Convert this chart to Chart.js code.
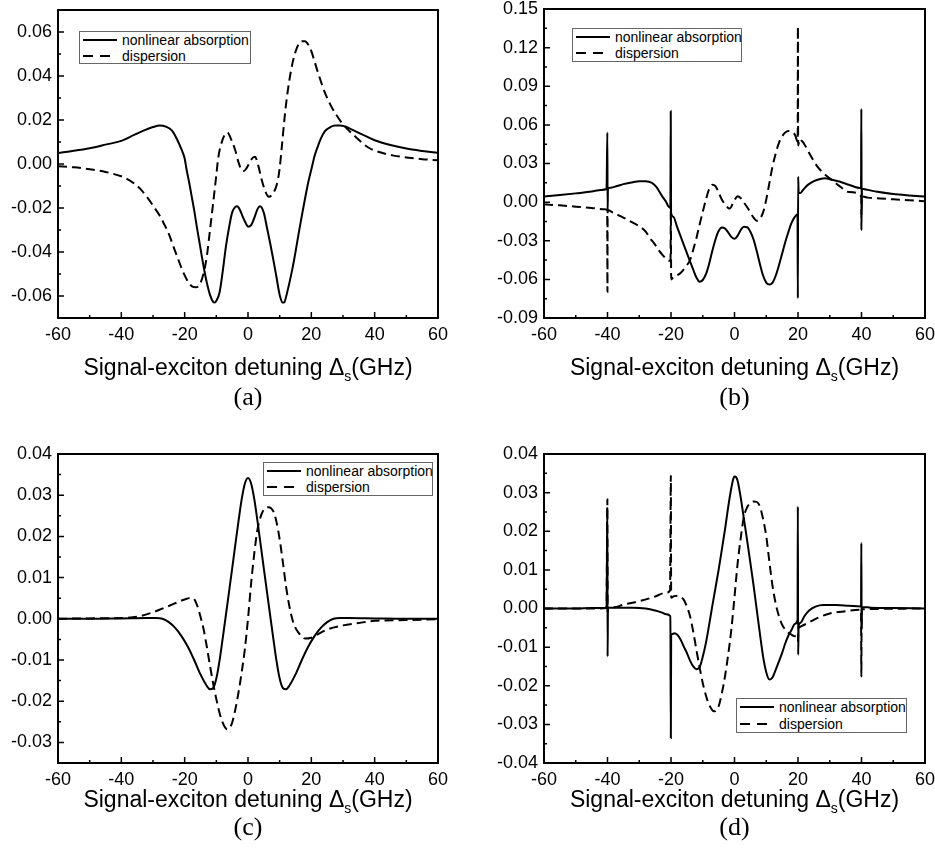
<!DOCTYPE html>
<html lang="en">
<head>
<meta charset="UTF-8">
<title>Nonlinear absorption and dispersion vs signal-exciton detuning</title>
<script src="https://cdn.jsdelivr.net/npm/chart.js"></script>
<style>
    html, body { margin: 0; padding: 0; overflow: hidden; background: #fff; }
    #fig {
        position: relative;
        width: 935px;
        height: 861px;
        overflow: hidden;
        background: #fff;
        font-family: 'Liberation Sans', Arial, sans-serif;
        color: #000;
    }
    #fig canvas { position: absolute; }
    .xtitle {
        position: absolute;
        font-size: 23px;
        line-height: 24px;
        height: 24px;
        white-space: nowrap;
        transform: translate(-50%, -50%);
    }
    .xtitle sub { font-size: 14px; vertical-align: baseline; position: relative; top: 6px; line-height: 0; }
    .cap {
        position: absolute;
        font-family: 'Liberation Serif', 'DejaVu Serif', serif;
        font-size: 26px;
        line-height: 28px;
        transform: translate(-50%, -50%);
    }
    .legend {
        position: absolute;
        border: 1px solid #666;
        background: #fff;
        font-size: 14px;
        box-sizing: border-box;
    }
    .legend .row { position: absolute; left: 2px; height: 16px; line-height: 16px; white-space: nowrap; }
    .legend svg { position: absolute; left: 0; top: 0; }
    .legend span { position: absolute; left: 40px; top: 0; }
</style>
</head>
<body>
<div id="fig"></div>

<script>
// ---- data ----
const seriesNames = ["nonlinear absorption", "dispersion"];
const xTicks = [-60, -40, -20, 0, 20, 40, 60];
const aYTicks = [-0.06, -0.04, -0.02, 0.00, 0.02, 0.04, 0.06];
const bYTicks = [-0.09, -0.06, -0.03, 0.00, 0.03, 0.06, 0.09, 0.12, 0.15];
const cYTicks = [-0.03, -0.02, -0.01, 0.00, 0.01, 0.02, 0.03, 0.04];
const dYTicks = [-0.04, -0.03, -0.02, -0.01, 0.00, 0.01, 0.02, 0.03, 0.04];

// (a)
const aAbs = [[-60,0.0050],[-55,0.0060],[-50,0.0072],[-45,0.0088],[-40,0.0105],[-36,0.0132],[-33,0.0152],[-30,0.0168],[-27.8,0.0175],[-26,0.0170],[-24,0.0152],[-22.5,0.0115],[-21,0.0066],[-20,0.0025],[-19.4,-0.0025],[-18.5,-0.0090],[-17.8,-0.0146],[-17,-0.0210],[-16.2,-0.0282],[-15.4,-0.0350],[-14.6,-0.0419],[-13.8,-0.0483],[-13,-0.0540],[-12,-0.0595],[-11,-0.0627],[-10.5,-0.0630],[-10,-0.0622],[-9,-0.0585],[-8,-0.0490],[-7,-0.0378],[-6,-0.0290],[-5,-0.0220],[-4,-0.0195],[-3.4,-0.0192],[-2.5,-0.0210],[-1.5,-0.0245],[-0.5,-0.0275],[0,-0.0285],
    [1,-0.0278],[2,-0.0245],[3,-0.0205],[3.8,-0.0192],[5,-0.0222],[6,-0.0290],[7,-0.0360],[8,-0.0435],[9,-0.0515],[10,-0.0595],[11,-0.0630],[11.5,-0.0628],[12,-0.0605],[13,-0.0545],[14,-0.0478],[15,-0.0400],[16,-0.0315],[17,-0.0235],[18,-0.0158],[19,-0.0085],[20,-0.0025],[21,0.0035],[22,0.0078],[23,0.0115],[24.3,0.0149],[26,0.0168],[27.5,0.0175],[29,0.0175],[30.6,0.0171],[33,0.0155],[36,0.0135],[40,0.0108],[45,0.0086],[50,0.0070],[55,0.0059],[60,0.0050]];
const aDisp = [[-60,-0.0010],[-55,-0.0015],[-50,-0.0024],[-45,-0.0036],[-40,-0.0056],[-38.8,-0.0063],[-36,-0.0088],[-34,-0.0113],[-32,-0.0148],[-30,-0.0189],[-28,-0.0232],[-26.7,-0.0267],[-25,-0.0318],[-23.6,-0.0373],[-22,-0.0435],[-20.4,-0.0494],[-19,-0.0533],[-17.8,-0.0555],[-16.5,-0.0560],[-15.2,-0.0547],[-14,-0.0495],[-13,-0.0419],[-12,-0.0300],[-11,-0.0176],[-10,-0.0050],[-9.4,0.0028],[-8,0.0112],[-7,0.0140],[-6.5,0.0144],[-5.5,0.0118],[-4.1,0.0066],[-3,0.0008],[-2,-0.0028],[-1.3,-0.0032],[-0.5,-0.0020],[0.1,-0.0005],[1,0.0020],[2.2,0.0033],[3.2,-0.0005],[4.3,-0.0070],[5.5,-0.0125],[6.6,-0.0149],[7.8,-0.0135],[9.1,-0.0093],[10,-0.0020],[10.6,0.0066],[11.7,0.0232],[12.2,0.0293],[13,0.0375],[14,0.0455],[15,0.0510],[16,0.0545],[17,0.0558],[18,0.0558],[19,0.0543],[20,0.0513],[21,0.0467],[22,0.0420],[24,0.0335],[26,0.0270],[27.5,0.0232],[30,0.0180],[33.8,0.0126],[38,0.0075],[42,0.0052],[46,0.0038],[50,0.0030],[55,0.0022],[60,0.0017]];

// (b)
const bAbs = [[-60,0.0043],[-55,0.0055],[-50,0.0068],[-45,0.0082],[-42,0.0095],[-40.3,0.0102],[-40.05,0.0540],[-39.97,-0.0074],[-39.85,0.0108],[-39,0.0112],[-37,0.0125],[-35,0.0140],[-32,0.0155],[-30,0.0162],[-28,0.0163],[-26,0.0150],[-24.5,0.0115],[-23.5,0.0075],[-22.5,0.0035],[-21.5,0.0000],[-20.9,-0.0030],[-20.2,-0.0045],[-20.08,0.0705],[-19.98,-0.0085],[-19.3,-0.0113],[-18,-0.0198],[-16,-0.0330],[-14,-0.0460],[-13,-0.0525],[-12,-0.0585],[-11,-0.0618],[-10,-0.0605],[-9,-0.0560],[-8,-0.0480],[-7,-0.0380],[-6,-0.0290],[-5,-0.0225],[-4,-0.0198],[-3,-0.0205],[-2,-0.0235],[-1,-0.0270],[0,-0.0285],[1,-0.0260],[2,-0.0215],[3,-0.0192],[4,-0.0195],[5,-0.0230],[6,-0.0290],[7,-0.0380],[8,-0.0480],[9,-0.0570],[10,-0.0625],[11,-0.0640],[12,-0.0625],[13,-0.0570],[14,-0.0490],[15,-0.0400],[16,-0.0310],[17,-0.0230],[18,-0.0160],[19,-0.0115],[19.85,-0.0095],[19.95,-0.0747],[20.05,0.0198],[20.2,0.0075],[20.7,0.0070],[21.5,0.0092],[23,0.0132],[25,0.0163],[27,0.0180],[28.5,0.0185],[30,0.0178],[33,0.0160],[36,0.0135],[39.85,0.0108],[39.95,0.0725],[40.05,-0.0100],[40.15,0.0104],[42,0.0095],[45,0.0080],[50,0.0063],[55,0.0052],[60,0.0043]];
const bDisp = [[-60,-0.0017],[-55,-0.0025],[-50,-0.0035],[-45,-0.0045],[-41,-0.0055],[-40.1,-0.0058],[-40.02,-0.0696],[-39.95,-0.0062],[-38,-0.0085],[-35,-0.0120],[-32,-0.0160],[-30,-0.0188],[-28,-0.0228],[-26.6,-0.0280],[-25,-0.0330],[-24,-0.0370],[-22.5,-0.0415],[-21.4,-0.0444],[-20.5,-0.0455],[-20.15,-0.0450],[-20.05,-0.0020],[-19.95,-0.0600],[-19.3,-0.0585],[-17,-0.0550],[-15,-0.0490],[-14,-0.0450],[-13,-0.0370],[-12,-0.0280],[-11,-0.0175],[-10,-0.0075],[-9,0.0020],[-8,0.0100],[-7,0.0135],[-6,0.0125],[-5,0.0075],[-4,0.0020],[-3,-0.0017],[-2,-0.0045],[-1.5,-0.0050],[-0.5,-0.0010],[0.5,0.0035],[1,0.0045],[2,0.0030],[3,-0.0004],[4,-0.0040],[5,-0.0080],[6,-0.0120],[7,-0.0145],[8,-0.0130],[9,-0.0080],[10,0.0020],[11,0.0150],[12,0.0280],[13,0.0380],[14,0.0460],[15,0.0510],[16,0.0540],[17,0.0552],[18,0.0545],[19,0.0525],[19.9,0.0470],[19.97,0.1365],[20.05,0.0440],[20.5,0.0490],[21,0.0480],[22,0.0450],[24,0.0360],[26,0.0280],[28,0.0225],[30,0.0185],[33,0.0126],[36,0.0079],[39.9,0.0045],[39.97,-0.0216],[40.05,0.0045],[42,0.0035],[45,0.0030],[50,0.0022],[55,0.0015],[60,0.0007]];

// (c)
const cAbs = [[-60,0],[-50,0],[-40,0.0001],[-32,0.0002],[-29,0.0002],[-27,0],[-25,-0.0008],[-23,-0.0022],[-21,-0.0042],[-19,-0.0068],[-17,-0.0100],[-15,-0.0135],[-13,-0.0163],[-12,-0.0171],[-11,-0.0168],[-10,-0.0145],[-9,-0.0102],[-8,-0.0048],[-7,0.0008],[-6,0.0065],[-5,0.0122],[-4,0.0180],[-3,0.0237],[-2,0.0290],[-1,0.0328],[0,0.0342],[1,0.0328],[2,0.0290],[3,0.0237],[4,0.0180],[5,0.0122],[6,0.0065],[7,0.0008],[8,-0.0048],[9,-0.0102],[10,-0.0145],[11,-0.0168],[12,-0.0171],[13,-0.0163],[15,-0.0135],[17,-0.0100],[19,-0.0068],[21,-0.0042],[23,-0.0022],[25,-0.0008],[27,0],[29,0.0002],[32,0.0002],[40,0.0001],[50,0],[60,0]];
const cDisp = [[-60,0],[-50,0.0001],[-40,0.0002],[-35,0.0005],[-30,0.0016],[-25,0.0031],[-20,0.0047],[-18,0.0051],[-17,0.0048],[-16,0.0031],[-15,0.0005],[-14,-0.0026],[-13,-0.0068],[-12,-0.0114],[-11,-0.0157],[-10,-0.0195],[-9,-0.0228],[-8,-0.0252],[-7,-0.0266],[-6.5,-0.0268],[-6,-0.0266],[-5,-0.0252],[-4,-0.0220],[-3,-0.0179],[-2,-0.0130],[-1,-0.0074],[0,0],[1,0.0087],[2,0.0160],[3,0.0217],[4,0.0248],[5,0.0265],[6.5,0.0271],[8,0.0261],[9,0.0235],[10,0.0193],[11,0.0138],[12,0.0079],[13,0.0033],[14,-0.0001],[15,-0.0022],[16,-0.0034],[17,-0.0043],[18,-0.0048],[20,-0.0046],[22,-0.0038],[25,-0.0026],[30,-0.0016],[35,-0.0010],[40,-0.0005],[50,-0.0003],[60,-0.0001]];

// (d)
const dAbs = [[-60,0],[-50,0],[-45,0.0001],[-40.3,0.0002],[-40.05,0.0260],[-39.97,-0.0124],[-39.85,0.0002],[-36,0.0002],[-32,0.0002],[-28,0],[-25,-0.0005],[-23,-0.0010],[-21.5,-0.0015],[-20.2,-0.0020],[-20.05,-0.0335],[-19.95,-0.0068],[-19.5,-0.0066],[-19,-0.0064],[-18,-0.0068],[-17,-0.0080],[-16,-0.0098],[-15,-0.0115],[-14,-0.0135],[-13,-0.0150],[-12,-0.0157],[-11,-0.0152],[-10,-0.0125],[-9,-0.0089],[-8,-0.0043],[-7,0.0006],[-6,0.0053],[-5,0.0100],[-4,0.0152],[-3,0.0204],[-2,0.0262],[-1,0.0312],[-0.3,0.0338],[0,0.0342],[0.5,0.0340],[1,0.0330],[2,0.0285],[3,0.0230],[4,0.0175],[5,0.0118],[6,0.0060],[7,-0.0003],[8,-0.0065],[9,-0.0124],[10,-0.0165],[11,-0.0184],[12,-0.0178],[13,-0.0158],[14,-0.0137],[15,-0.0115],[16,-0.0090],[17,-0.0070],[18,-0.0055],[19,-0.0040],[19.85,-0.0030],[19.95,0.0264],[20.05,-0.0120],[20.2,-0.0045],[20.8,-0.0037],[22,-0.0020],[23.5,-0.0005],[25.5,0.0005],[28,0.0009],[32,0.0009],[36,0.0007],[39.85,0.0005],[39.95,0.0170],[40.05,-0.0055],[40.15,0.0004],[43,0.0002],[50,0.0001],[60,0]];
const dDisp = [[-60,0],[-45,0],[-40.3,0.0001],[-40.05,0.0282],[-39.95,-0.0010],[-39.8,0.0002],[-38,0.0003],[-35,0.0010],[-30,0.0019],[-25,0.0031],[-22,0.0040],[-20.3,0.0046],[-20.05,0.0344],[-19.95,0.0028],[-19,0.0032],[-18,0.0033],[-17,0.0030],[-16,0.0023],[-15,0.0005],[-14,-0.0020],[-13,-0.0060],[-12,-0.0107],[-11,-0.0152],[-10,-0.0193],[-9,-0.0225],[-8,-0.0249],[-7,-0.0263],[-6.5,-0.0266],[-6,-0.0265],[-5,-0.0253],[-4,-0.0220],[-3,-0.0176],[-2,-0.0120],[-1,-0.0055],[0,0.0030],[1,0.0118],[2,0.0185],[3,0.0239],[4,0.0262],[5,0.0273],[6,0.0277],[7,0.0276],[8,0.0264],[9,0.0232],[10,0.0187],[11,0.0120],[12,0.0057],[13,0.0012],[14,-0.0020],[15,-0.0042],[16,-0.0055],[17,-0.0063],[18,-0.0068],[19,-0.0072],[19.9,-0.0074],[20,-0.0085],[20.1,-0.0055],[20.5,-0.0048],[21,-0.0046],[23,-0.0038],[26,-0.0025],[30,-0.0013],[35,-0.0007],[39.85,-0.0003],[39.95,-0.0176],[40.05,0],[40.2,-0.0002],[45,-0.0001],[60,0]];

// ---- layout of the four panels (pixel boxes of the plot areas) ----
const panels = [
    { tag: "(a)", abs: aAbs, disp: aDisp, yTicks: aYTicks, yMin: -0.07, yMax: 0.07,
      area: { l: 58, r: 438, t: 10, b: 318 }, legend: { l: 79, t: 31, w: 172, h: 33 }, titleY: 367, capY: 397 },
    { tag: "(b)", abs: bAbs, disp: bDisp, yTicks: bYTicks, yMin: -0.09, yMax: 0.15,
      area: { l: 544, r: 925, t: 9, b: 318 }, legend: { l: 572, t: 28, w: 170, h: 34 }, titleY: 367, capY: 397 },
    { tag: "(c)", abs: cAbs, disp: cDisp, yTicks: cYTicks, yMin: -0.035, yMax: 0.04,
      area: { l: 58, r: 438, t: 454, b: 763 }, legend: { l: 263, t: 462, w: 170, h: 34 }, titleY: 799, capY: 827 },
    { tag: "(d)", abs: dAbs, disp: dDisp, yTicks: dYTicks, yMin: -0.04, yMax: 0.04,
      area: { l: 544, r: 925, t: 454, b: 763 }, legend: { l: 736, t: 698, w: 171, h: 35 }, titleY: 799, capY: 827 }
];

const PAD_L = 80, PAD_T = 20, PAD_R = 30, PAD_B = 40;

Chart.defaults.font.family = "'Liberation Sans', Arial, sans-serif";
Chart.defaults.font.size = 18;
Chart.defaults.color = "#000";

// frame + inward major/minor ticks on the left and bottom axes
const framePlugin = {
    id: "frame",
    afterDatasetsDraw(chart) {
        const { ctx, chartArea: a, scales: { x, y } } = chart;
        ctx.save();
        ctx.strokeStyle = "#000";
        ctx.lineWidth = 1.5;
        ctx.beginPath();
        const xt = x.ticks.map(t => t.value);
        xt.forEach((v, i) => {
            const px = x.getPixelForValue(v);
            ctx.moveTo(px, a.bottom); ctx.lineTo(px, a.bottom - 6);
            if (i < xt.length - 1) {
                const mx = x.getPixelForValue((v + xt[i + 1]) / 2);
                ctx.moveTo(mx, a.bottom); ctx.lineTo(mx, a.bottom - 3);
            }
        });
        const yt = y.ticks.map(t => t.value);
        yt.forEach((v, i) => {
            const py = y.getPixelForValue(v);
            ctx.moveTo(a.left, py); ctx.lineTo(a.left + 6, py);
            if (i < yt.length - 1) {
                const my = y.getPixelForValue((v + yt[i + 1]) / 2);
                ctx.moveTo(a.left, my); ctx.lineTo(a.left + 3, my);
            }
        });
        ctx.stroke();
        ctx.lineWidth = 2;
        ctx.strokeRect(a.left, a.top, a.right - a.left, a.bottom - a.top);
        ctx.restore();
    }
};

const fig = document.getElementById("fig");
const toPoints = arr => arr.map(p => ({ x: p[0], y: p[1] }));

panels.forEach(p => {
    const A = p.area;
    const cv = document.createElement("canvas");
    const w = A.r - A.l + PAD_L + PAD_R;
    const h = A.b - A.t + PAD_T + PAD_B;
    cv.width = w; cv.height = h;
    cv.style.left = (A.l - PAD_L) + "px";
    cv.style.top = (A.t - PAD_T) + "px";
    cv.style.width = w + "px";
    cv.style.height = h + "px";
    fig.appendChild(cv);

    new Chart(cv, {
        type: "line",
        data: {
            datasets: [
                { label: seriesNames[0], data: toPoints(p.abs), borderColor: "#000", borderWidth: 2,
                  pointRadius: 0, cubicInterpolationMode: "monotone" },
                { label: seriesNames[1], data: toPoints(p.disp), borderColor: "#000", borderWidth: 2,
                  borderDash: [9, 5], pointRadius: 0, cubicInterpolationMode: "monotone" }
            ]
        },
        options: {
            responsive: false,
            animation: false,
            devicePixelRatio: 1,
            layout: { padding: { left: 0, top: PAD_T, right: PAD_R, bottom: 0 } },
            plugins: { legend: { display: false }, tooltip: { enabled: false } },
            scales: {
                x: {
                    type: "linear", min: -60, max: 60,
                    grid: { display: false, drawTicks: false }, border: { display: false },
                    ticks: { padding: 6, maxRotation: 0, autoSkip: false, callback: v => String(v) },
                    afterBuildTicks: s => { s.ticks = xTicks.map(v => ({ value: v })); },
                    afterFit: s => { s.height = PAD_B; }
                },
                y: {
                    type: "linear", min: p.yMin, max: p.yMax,
                    grid: { display: false, drawTicks: false }, border: { display: false },
                    ticks: { padding: 6, autoSkip: false, callback: v => v.toFixed(2) },
                    afterBuildTicks: s => { s.ticks = p.yTicks.map(v => ({ value: v })); },
                    afterFit: s => { s.width = PAD_L; }
                }
            }
        },
        plugins: [framePlugin]
    });

    // legend box
    const L = p.legend;
    const lg = document.createElement("div");
    lg.className = "legend";
    Object.assign(lg.style, { left: L.l + "px", top: L.t + "px", width: L.w + "px", height: L.h + "px" });
    seriesNames.forEach((name, i) => {
        const row = document.createElement("div");
        row.className = "row";
        row.style.top = (i === 0 ? 0 : L.h / 2 - 1) + "px";
        const dash = i === 0 ? "" : ' stroke-dasharray="10 7"';
        row.innerHTML = '<svg width="36" height="16"><line x1="1" y1="8" x2="35" y2="8" stroke="#000" stroke-width="2"' + dash + '/></svg>' +
            '<span>' + name + '</span>';
        lg.appendChild(row);
    });
    fig.appendChild(lg);

    // axis title and panel caption
    const cx = (A.l + A.r) / 2;
    const t = document.createElement("div");
    t.className = "xtitle";
    t.style.left = cx + "px"; t.style.top = p.titleY + "px";
    t.innerHTML = "Signal-exciton detuning \u0394<sub>s</sub>(GHz)";
    fig.appendChild(t);

    const c = document.createElement("div");
    c.className = "cap";
    c.style.left = cx + "px"; c.style.top = p.capY + "px";
    c.textContent = p.tag;
    fig.appendChild(c);
});
</script>
</body>
</html>
